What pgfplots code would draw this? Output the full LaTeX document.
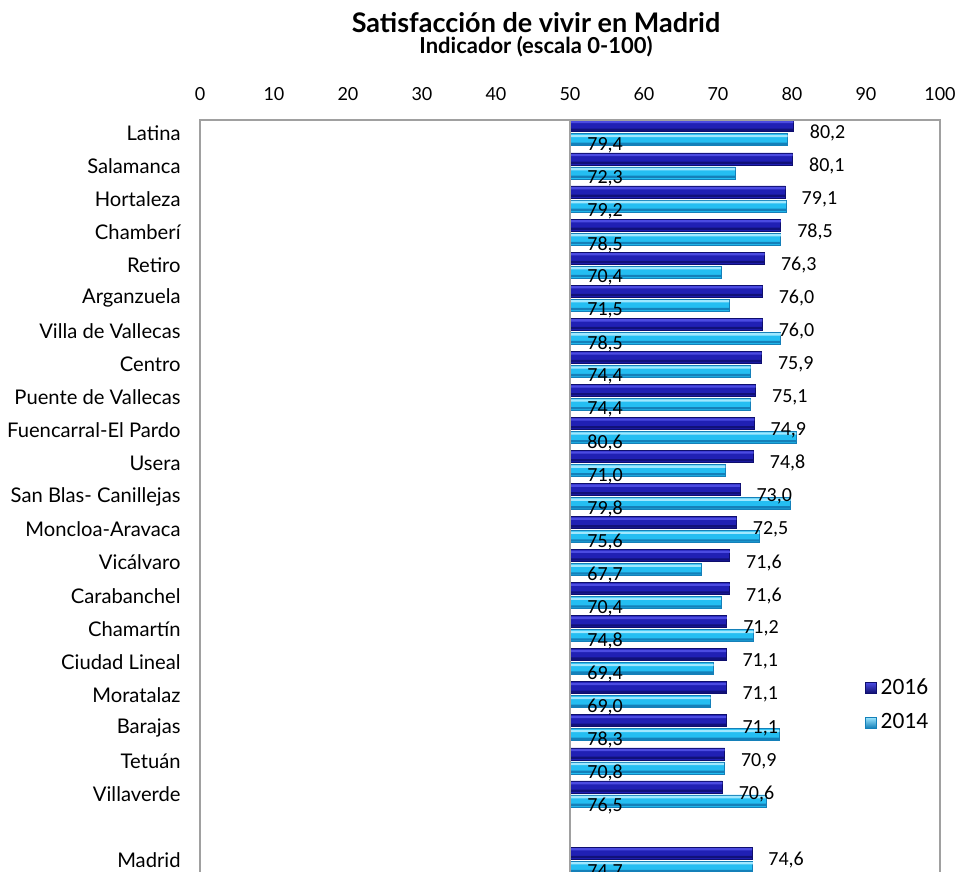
\documentclass[border=0pt]{standalone}
\usepackage{pgfplots}
\usepackage{pgfplotstable}
\pgfplotsset{compat=1.18}
\usepackage{fontspec}
\setmainfont{Lato}
\newfontfamily\calib{Carlito}

\definecolor{dkTop}{RGB}{75,75,225}
\definecolor{dkMid}{RGB}{32,32,180}
\definecolor{dkBot}{RGB}{14,14,110}
\definecolor{ltTop}{RGB}{160,232,255}
\definecolor{ltMid}{RGB}{36,190,242}
\definecolor{ltBot}{RGB}{20,128,185}
\definecolor{framegray}{RGB}{160,160,160}

% idx: row position (21 districts, gap, Madrid)
\pgfplotstableread{
idx v16 v14
0 80.2 79.4
1 80.1 72.3
2 79.1 79.2
3 78.5 78.5
4 76.3 70.4
5 76.0 71.5
6 76.0 78.5
7 75.9 74.4
8 75.1 74.4
9 74.9 80.6
10 74.8 71.0
11 73.0 79.8
12 72.5 75.6
13 71.6 67.7
14 71.6 70.4
15 71.2 74.8
16 71.1 69.4
17 71.1 69.0
18 71.1 78.3
19 70.9 70.8
20 70.6 76.5
22 74.6 74.7
}\datatable

\begin{document}
\begin{tikzpicture}
\begin{axis}[
    at={(0,0)}, anchor=south west,
    width=370pt, height=376pt, scale only axis,
    xmin=-50, xmax=50,
    ymin=-0.39, ymax=22.36, y dir=reverse,
    xtick={-50,-40,-30,-20,-10,0,10,20,30,40,50},
    xticklabels={0,10,20,30,40,50,60,70,80,90,100},
    xticklabel pos=upper,
    xticklabel style={anchor=base, inner sep=0pt, yshift=9.5pt, font=\fontsize{9}{11}\selectfont},
    ytick={0,...,20,22},
    yticklabels={Latina,Salamanca,Hortaleza,Chamberí,Retiro,Arganzuela,Villa de Vallecas,Centro,Puente de Vallecas,Fuencarral-El Pardo,Usera,San Blas- Canillejas,Moncloa-Aravaca,Vicálvaro,Carabanchel,Chamartín,Ciudad Lineal,Moratalaz,Barajas,Tetuán,Villaverde,Madrid},
    yticklabel style={anchor=east, inner sep=0pt, xshift=-9.5pt, font=\fontsize{10.1}{12}\selectfont},
    major tick length=0pt,
    axis line style={draw=none},
    legend style={draw=none, fill=none, at={(axis description cs:0.898,0.263)}, anchor=north west,
        font=\calib\fontsize{11.7}{13}\selectfont, row sep=4pt, inner sep=0pt},
    legend cell align=left,
]
% 2016 bars
\addplot[xbar, bar width=0.363, bar shift=-0.212, draw=dkBot, fill=dkMid,
    point meta=explicit,
    nodes near coords={\pgfmathprintnumber[fixed,fixed zerofill,precision=1,use comma,assume math mode=true]{\pgfplotspointmeta}},
    nodes near coords style={anchor=west, inner sep=0pt, xshift=8pt, yshift=0pt, font=\calib\fontsize{10}{12}\selectfont, text=black},
    legend image code/.code={\draw[draw=dkBot, top color=dkTop, middle color=dkMid, bottom color=dkBot] (0pt,-2.75pt) rectangle (5.5pt,2.75pt);}]
    table[x expr=\thisrow{v16}-50, y=idx, meta=v16] {\datatable};
\addlegendentry{2016}
% 2014 bars
\addplot[xbar, bar width=0.363, bar shift=0.212, draw=ltBot, fill=ltMid,
    legend image code/.code={\draw[draw=ltBot, top color=ltTop, middle color=ltMid, bottom color=ltBot] (0pt,-2.75pt) rectangle (5.5pt,2.75pt);}]
    table[x expr=\thisrow{v14}-50, y=idx] {\datatable};
\addlegendentry{2014}
% bevel stripes (light top edge, dark bottom edge) on each bar
\addplot[xbar, forget plot, bar width=0.07, bar shift=-0.3285, draw=none, fill=dkTop]
    table[x expr=\thisrow{v16}-50, y=idx] {\datatable};
\addplot[xbar, forget plot, bar width=0.07, bar shift=-0.0955, draw=none, fill=dkBot!85!dkMid]
    table[x expr=\thisrow{v16}-50, y=idx] {\datatable};
\addplot[xbar, forget plot, bar width=0.07, bar shift=0.0955, draw=none, fill=ltTop]
    table[x expr=\thisrow{v14}-50, y=idx] {\datatable};
\addplot[xbar, forget plot, bar width=0.07, bar shift=0.3285, draw=none, fill=ltBot]
    table[x expr=\thisrow{v14}-50, y=idx] {\datatable};
% 2014 labels sit at the base of the bars
\addplot[draw=none, mark=none, forget plot, point meta=explicit,
    nodes near coords={\pgfmathprintnumber[fixed,fixed zerofill,precision=1,use comma,assume math mode=true]{\pgfplotspointmeta}},
    nodes near coords style={anchor=west, inner sep=0pt, xshift=8.5pt, yshift=-6.25pt, font=\calib\fontsize{10}{12}\selectfont, text=black}]
    table[x expr=0, y=idx, meta=v14] {\datatable};
\end{axis}
\draw[framegray, line width=0.8pt] (185pt,0) -- (185pt,376pt);
\draw[framegray, line width=1.25pt] (0,0) -- (0,376pt) -- (370pt,376pt) -- (370pt,0);
\node[font=\bfseries\fontsize{13.5}{16}\selectfont, anchor=base, inner sep=0pt] at (168pt,419.5pt) {Satisfacción de vivir en Madrid};
\node[font=\bfseries\fontsize{11}{13}\selectfont, anchor=base, inner sep=0pt] at (168pt,409pt) {Indicador (escala 0-100)};
\pgfresetboundingbox
\useasboundingbox (-100pt,0) rectangle (380pt,436pt);
\end{tikzpicture}
\end{document}
